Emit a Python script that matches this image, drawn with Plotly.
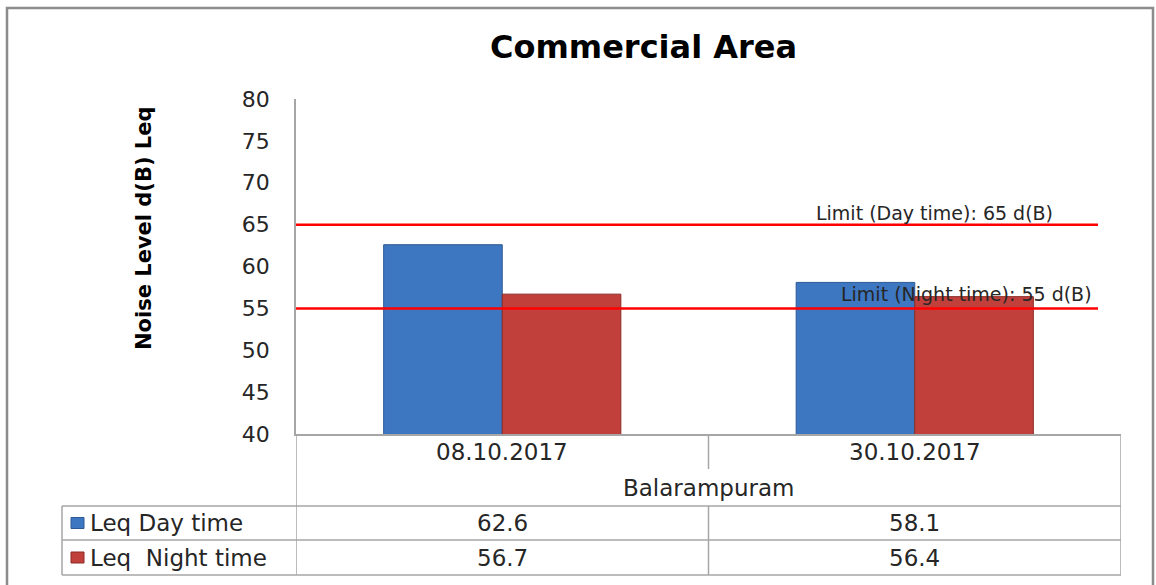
import plotly.graph_objects as go

# ---- data ----
categories = ["08.10.2017", "30.10.2017"]
group_label = "Balarampuram"
series_names = ["Leq Day time", "Leq\u00a0 Night time"]
day_values = [62.6, 58.1]
night_values = [56.7, 56.4]
limit_day = 65
limit_night = 55
limit_day_text = "Limit (Day time): 65 d(B)"
limit_night_text = "Limit (Night time): 55 d(B)"
title_text = "Commercial Area"
y_title = "Noise Level d(B) Leq"
y_range = [40, 80]
y_dtick = 5

W, H = 1156, 585
FONT = "DejaVu Sans"
TXT = "#262626"
GRID = "#a6a6a6"
BLUE = "#3e77c1"
BLUE_EDGE = "#2c5893"
RED = "#c1403b"
RED_EDGE = "#8c2b27"


def px(x):
    return x / W


def py(y):
    return 1 - y / H


fig = go.Figure()
fig.add_trace(go.Bar(x=categories, y=day_values, name=series_names[0],
                     marker=dict(color=BLUE, line=dict(color=BLUE_EDGE, width=1)),
                     showlegend=False, hoverinfo="skip"))
fig.add_trace(go.Bar(x=categories, y=night_values, name=series_names[1],
                     marker=dict(color=RED, line=dict(color=RED_EDGE, width=1)),
                     showlegend=False, hoverinfo="skip"))

shapes = []
line_style = dict(color=GRID, width=1.5)

# outer chart border
shapes.append(dict(type="rect", xref="paper", yref="paper",
                   x0=px(7), x1=px(1153), y0=py(8), y1=py(600),
                   line=dict(color="#8c8c8c", width=2.5)))

# limit lines
for lim in (limit_day, limit_night):
    shapes.append(dict(type="line", xref="paper", yref="y",
                       x0=px(296), x1=px(1098), y0=lim, y1=lim,
                       line=dict(color="#ff0000", width=2.5), layer="above"))

# data table grid
TOP, ROW1, ROW2, BOT = 434, 506, 540, 575
LEFT = 62
n = len(categories)
for xb in (-0.5, n - 0.5):
    shapes.append(dict(type="line", xref="x", yref="paper",
                       x0=xb, x1=xb, y0=py(TOP), y1=py(BOT), line=line_style))
for i in range(n - 1):
    xb = i + 0.5
    shapes.append(dict(type="line", xref="x", yref="paper",
                       x0=xb, x1=xb, y0=py(TOP), y1=py(469), line=line_style))
    shapes.append(dict(type="line", xref="x", yref="paper",
                       x0=xb, x1=xb, y0=py(ROW1), y1=py(BOT), line=line_style))
for yy in (ROW1, ROW2, BOT):
    shapes.append(dict(type="line", xref="paper", yref="paper",
                       x0=px(LEFT), x1=px(1121), y0=py(yy), y1=py(yy), line=line_style))
shapes.append(dict(type="line", xref="paper", yref="paper",
                   x0=px(LEFT), x1=px(LEFT), y0=py(ROW1), y1=py(BOT), line=line_style))

# legend keys
for yc, col, edge in ((523, BLUE, BLUE_EDGE), (557.5, RED, RED_EDGE)):
    shapes.append(dict(type="rect", xref="paper", yref="paper",
                       x0=px(71), x1=px(84), y0=py(yc - 5.5), y1=py(yc + 5.5),
                       fillcolor=col, line=dict(color=edge, width=1)))

ann = []


def add_text(text, x, y, font, xref="paper", yref="paper", xanchor="center",
             yanchor="middle", **kw):
    ann.append(dict(text=text, x=x, y=y, xref=xref, yref=yref, xanchor=xanchor,
                    yanchor=yanchor, showarrow=False, font=font, **kw))


add_text(f"<b>{title_text}</b>", px(643), py(47),
         dict(family=FONT, size=32, color="#000000"))
add_text(f"<b>{y_title}</b>", px(144), py(228),
         dict(family=FONT, size=21, color="#000000"), textangle=-90)
lfont = dict(family=FONT, size=19, color=TXT)
add_text(limit_day_text, px(934), limit_day, lfont, yref="y", yshift=12)
add_text(limit_night_text, px(966), limit_night, lfont, yref="y", yshift=14)

tfont = dict(family=FONT, size=23, color=TXT)
for i, c in enumerate(categories):
    add_text(c, i, py(452), tfont, xref="x")
    add_text(f"{day_values[i]:.1f}", i, py(523), tfont, xref="x")
    add_text(f"{night_values[i]:.1f}", i, py(557.5), tfont, xref="x")
add_text(group_label, (n - 1) / 2, py(488), tfont, xref="x")
for name, yc in zip(series_names, (523, 557.5)):
    add_text(name, px(88), py(yc), tfont, xanchor="left")

fig.update_layout(
    width=W, height=H,
    margin=dict(l=0, r=0, t=0, b=0, autoexpand=False),
    paper_bgcolor="white", plot_bgcolor="white",
    barmode="group", bargap=0.425, bargroupgap=0,
    shapes=shapes, annotations=ann,
    showlegend=False,
    xaxis=dict(domain=[px(296), px(1121)], range=[-0.5, n - 0.5], automargin=False,
               showticklabels=False, showgrid=False, zeroline=False,
               showline=True, linecolor=GRID, linewidth=1.5, ticks=""),
    yaxis=dict(domain=[py(434), py(99)], range=y_range, dtick=y_dtick, automargin=False,
               showgrid=False, zeroline=False, showline=True, linecolor=GRID,
               linewidth=1.5, ticks="", ticklabelstandoff=20,
               tickfont=dict(family=FONT, size=22, color=TXT)),
)

fig.write_html("out.html", config={"displayModeBar": False},
               post_script="document.body.style.margin='0';")
